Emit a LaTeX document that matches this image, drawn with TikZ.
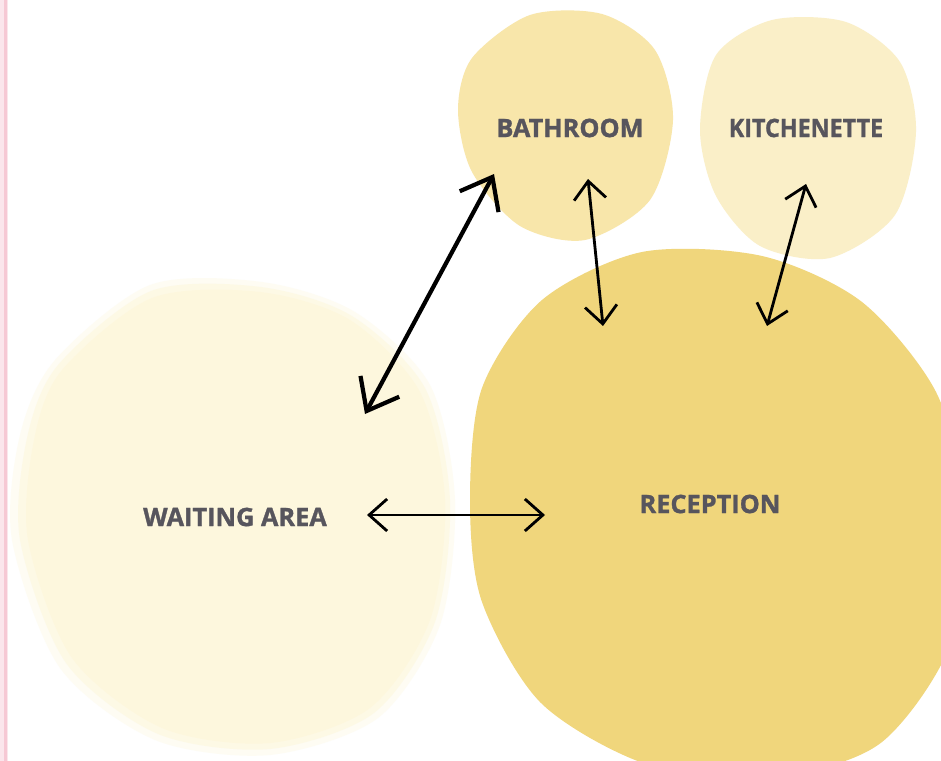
\documentclass[tikz,border=0pt]{standalone}
\usepackage{fontspec}
\setmainfont{Open Sans}[BoldFeatures={FakeBold=1.2}]
\usetikzlibrary{arrows.meta, positioning, calc}

\definecolor{recepC}{HTML}{F0D67C}
\definecolor{bathC}{HTML}{F8E6AA}
\definecolor{kitchC}{HTML}{FAEFC8}
\definecolor{waitC}{HTML}{FDF7DD}
\definecolor{labelC}{HTML}{57555D}
\definecolor{pinkC}{HTML}{F6C8D4}

\begin{document}
\begin{tikzpicture}[
    x=0.025cm, y=-0.025cm,
    room/.style={font=\bfseries\fontsize{18}{20}\selectfont, text=labelC},
    link/.style={line width=2pt, {Straight Barb[length=4.5mm, width=8mm]}-{Straight Barb[length=4.5mm, width=8mm]}},
    biglink/.style={line width=3pt, {Straight Barb[length=7mm, width=11mm]}-{Straight Barb[length=7mm, width=11mm]}}
]
    \useasboundingbox (0,0) rectangle (941,761);
    \clip (0,0) rectangle (941,761);
    \fill[white] (0,0) rectangle (941,761);

    % rand links
    \fill[pinkC!45] (0,0) rectangle (8,761);
    \fill[pinkC] (4,0) rectangle (7,761);

    % waiting area, weicher rand
    \fill[waitC, opacity=0.35] plot[smooth cycle] coordinates {(55,360) (150,285) (262,282) (355,312) (430,385) (455,500) (440,625) (378,718) (270,755) (155,740) (60,668) (12,540) (20,435)};
    \fill[waitC, opacity=0.6] plot[smooth cycle] coordinates {(58,365) (151,291) (261,287) (352,316) (425,388) (450,500) (435,622) (374,713) (270,749) (158,734) (66,663) (20,540) (27,438)};
    \fill[waitC] plot[smooth cycle] coordinates {(62,370) (152,298) (260,292) (350,320) (420,392) (445,500) (430,620) (370,708) (270,743) (162,728) (72,658) (28,540) (34,440)};

    % bathroom
    \fill[bathC] plot[smooth cycle] coordinates {(472,58) (530,15) (602,14) (655,50) (673,120) (650,200) (585,240) (520,226) (472,172) (458,110)};
    % kitchenette
    \fill[kitchC] plot[smooth cycle] coordinates {(716,55) (772,20) (846,22) (900,62) (916,132) (895,215) (830,258) (760,246) (716,196) (700,130)};
    % reception
    \fill[recepC] plot[smooth cycle] coordinates {(482,388) (542,300) (642,252) (762,256) (862,302) (936,392) (962,500) (952,640) (882,742) (782,775) (652,766) (542,704) (482,602) (470,500)};

    % labels
    \node[room] (bath) at (570,128) {BATHROOM};
    \node[room, xscale=0.92] (kitch) at (806,128) {KITCHENETTE};
    \node[room] (recep) at (710,504) {RECEPTION};
    \node[room] (wait) at (235,517) {WAITING AREA};

    % pfeil-enden
    \coordinate (bathA) at (494,174);
    \coordinate (waitA) at (365,414);
    \coordinate (bathB) at (588,179);
    \coordinate (recepB) at (603,326);
    \coordinate (kitchA) at (806,184);
    \coordinate (recepC) at (767,326);
    \coordinate (waitB) at (367,515);
    \coordinate (recepD) at (545,515);

    \draw[biglink] (waitA) -- (bathA);
    \draw[link] (bathB) -- (recepB);
    \draw[link] (kitchA) -- (recepC);
    \draw[link] (waitB) -- (recepD);
\end{tikzpicture}
\end{document}
